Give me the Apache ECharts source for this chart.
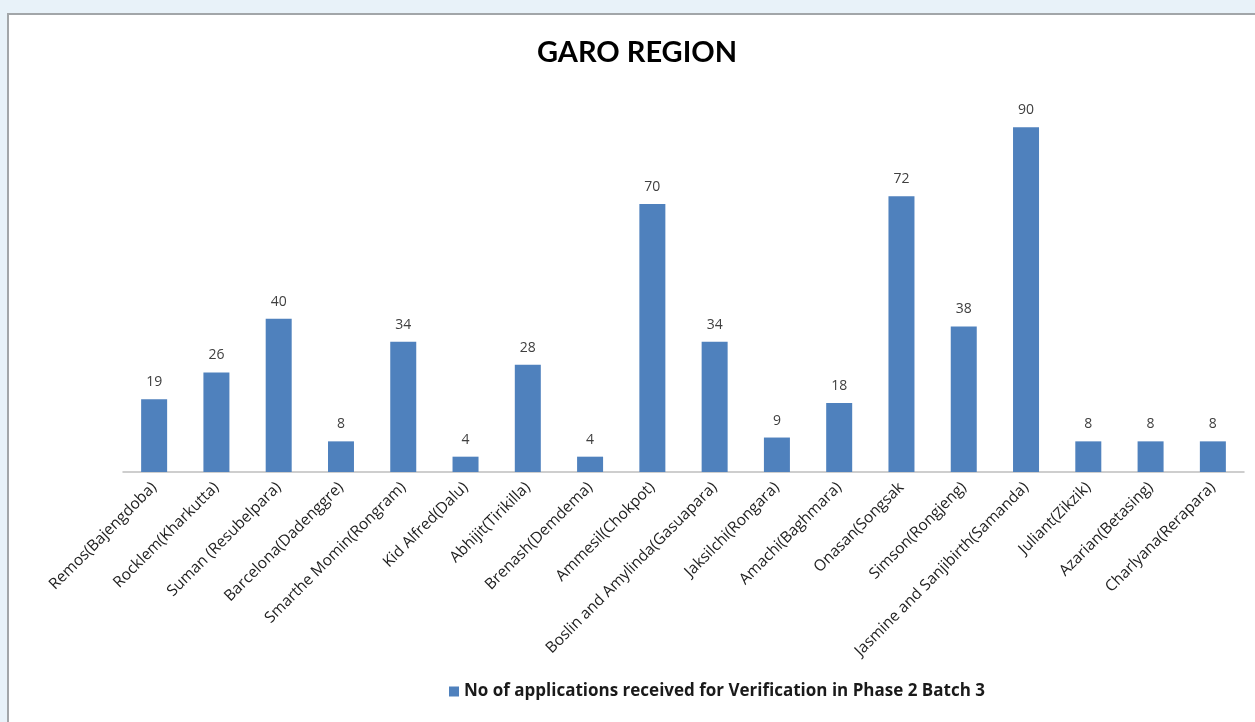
<!DOCTYPE html>
<html>
<head>
<meta charset="utf-8">
<script src="https://cdn.jsdelivr.net/npm/echarts@6/dist/echarts.min.js"></script>
<style>
html,body{margin:0;padding:0;background:#E8F2F9;}
#chart{width:1255px;height:722px;}
</style>
</head>
<body>
<div id="chart"></div>
<script>
const categories = [
  "Remos(Bajengdoba)", "Rocklem(Kharkutta)", "Suman (Resubelpara)", "Barcelona(Dadenggre)",
  "Smarthe Momin(Rongram)", "Kid Alfred(Dalu)", "Abhijit(Tirikilla)", "Brenash(Demdema)",
  "Ammesil(Chokpot)", "Boslin and Amylinda(Gasuapara)", "Jaksilchi(Rongara)", "Amachi(Baghmara)",
  "Onasan(Songsak", "Simson(Rongjeng)", "Jasmine and Sanjibirth(Samanda)", "Juliant(Zikzik)",
  "Azarian(Betasing)", "Charlyana(Rerapara)"
];
const values = [19, 26, 40, 8, 34, 4, 28, 4, 70, 34, 9, 18, 72, 38, 90, 8, 8, 8];
const seriesName = "No of applications received for Verification in Phase 2 Batch 3";
const titleText = "GARO REGION";

const chart = echarts.init(document.getElementById('chart'));
chart.setOption({
  backgroundColor: '#E8F2F9',
  animation: false,
  textStyle: { fontFamily: 'Open Sans' },
  graphic: [{
    type: 'rect', z: -10, silent: true,
    shape: { x: 8, y: 14, width: 1260, height: 720 },
    style: { fill: '#FFFFFF', stroke: '#A2A6A9', lineWidth: 2 }
  }],
  title: {
    text: titleText, left: 632, top: 33, textAlign: 'center',
    textStyle: { fontFamily: 'Lato', fontWeight: 'bold', fontSize: 29, color: '#000' }
  },
  legend: {
    data: [seriesName], left: 444, top: 678,
    icon: 'rect', itemWidth: 10, itemHeight: 10, itemGap: 4,
    textStyle: { fontFamily: 'Open Sans', fontWeight: 'bold', fontSize: 17, color: '#1a1a1a' }
  },
  grid: { left: 123, right: 11, top: 89, bottom: 250, containLabel: false },
  xAxis: {
    type: 'category', data: categories,
    axisLine: { lineStyle: { color: '#BFBFBF', width: 1.5 } },
    axisTick: { show: false },
    axisLabel: { rotate: 45, interval: 0, fontFamily: 'Open Sans', fontSize: 15.5, color: '#222', margin: 13 }
  },
  yAxis: {
    type: 'value', min: 0, max: 100, show: false,
    splitLine: { show: false }
  },
  series: [{
    name: seriesName, type: 'bar', data: values, barWidth: 26,
    itemStyle: { color: '#4F81BD' },
    label: { show: true, position: 'top', distance: 10, fontFamily: 'Open Sans', fontSize: 14, color: '#404040' }
  }]
});
</script>
</body>
</html>
